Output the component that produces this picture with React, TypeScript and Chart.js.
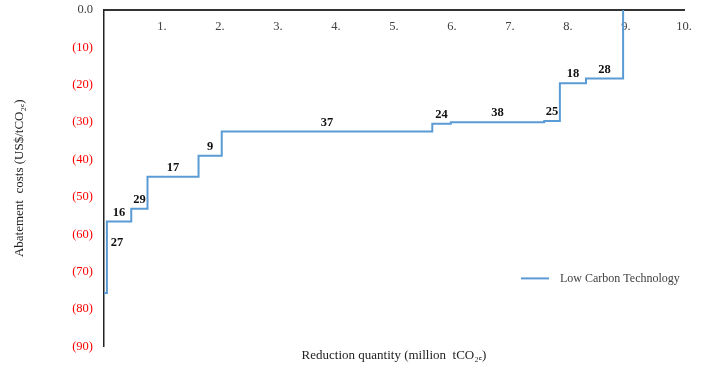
import React, { useEffect, useRef } from 'react';
import { Chart, registerables } from 'chart.js';

Chart.register(...registerables);

// ---- data ----
const techLabels = ['27', '16', '29', '17', '9', '37', '24', '38', '25', '18', '28'];
const quantities = [0.05, 0.42, 0.28, 0.88, 0.4, 3.63, 0.32, 1.61, 0.27, 0.45, 0.64]; // million tCO2e
const costs = [-75.7, -56.6, -53.2, -44.6, -39.0, -32.5, -30.4, -30.0, -29.7, -19.6, -18.3]; // US$/tCO2e
const seriesName = 'Low Carbon Technology';
const xMin = 0;
const xMax = 10;
const yMin = -90;
const yMax = 0;
const xTitle = 'Reduction quantity (million  tCO\u2082\u2091)';
const yTitle = 'Abatement  costs (US$/tCO\u2082\u2091)';

const FONT = "'Liberation Serif', 'Times New Roman', serif";
const LINE_COLOR = '#5B9BD5';

function buildPoints() {
  const pts: { x: number; y: number }[] = [{ x: 0, y: costs[0] }];
  let cum = 0;
  for (let i = 0; i < quantities.length; i++) {
    cum += quantities[i];
    pts.push({ x: cum, y: costs[i] });
  }
  pts.push({ x: cum, y: 0 });
  return pts;
}

const stepLabelPlugin = {
  id: 'stepLabels',
  afterDatasetsDraw(chart: any) {
    const { ctx, scales } = chart;
    const xs = scales.x;
    const ys = scales.y;
    ctx.save();
    ctx.font = `bold 12.5px ${FONT}`;
    ctx.fillStyle = '#111';
    ctx.textAlign = 'center';
    ctx.textBaseline = 'middle';
    let cum = 0;
    for (let i = 0; i < techLabels.length; i++) {
      const x0 = cum;
      cum += quantities[i];
      const p0 = xs.getPixelForValue(x0);
      const p1 = xs.getPixelForValue(cum);
      const py = ys.getPixelForValue(costs[i]);
      if (p1 - p0 < 8 && i + 1 < costs.length) {
        const pyNext = ys.getPixelForValue(costs[i + 1]);
        ctx.fillText(techLabels[i], p1 + 10, (py + pyNext) / 2 - 14);
      } else {
        ctx.fillText(techLabels[i], (p0 + p1) / 2, py - 9);
      }
    }
    ctx.restore();
  },
};

const innerLegendPlugin = {
  id: 'innerLegend',
  afterDraw(chart: any) {
    const { ctx, chartArea } = chart;
    const ds = chart.data.datasets[0];
    const y = chartArea.bottom - 68;
    const lx = chartArea.right - 163;
    ctx.save();
    ctx.strokeStyle = ds.borderColor;
    ctx.lineWidth = 2;
    ctx.beginPath();
    ctx.moveTo(lx, y);
    ctx.lineTo(lx + 28, y);
    ctx.stroke();
    ctx.font = `12px ${FONT}`;
    ctx.fillStyle = '#404040';
    ctx.textAlign = 'left';
    ctx.textBaseline = 'middle';
    ctx.fillText(ds.label, lx + 39, y);
    ctx.restore();
  },
};

export default function App() {
  const canvasRef = useRef<HTMLCanvasElement | null>(null);

  useEffect(() => {
    document.body.style.margin = '0';
    const canvas = canvasRef.current;
    if (!canvas) return;
    const chart = new Chart(canvas, {
      type: 'line',
      data: {
        datasets: [
          {
            label: seriesName,
            data: buildPoints(),
            borderColor: LINE_COLOR,
            backgroundColor: LINE_COLOR,
            borderWidth: 2,
            pointRadius: 0,
            stepped: 'after',
            fill: false,
          },
        ],
      },
      options: {
        responsive: false,
        animation: false,
        layout: { padding: { left: 6, top: 10, right: 20, bottom: 5 } },
        plugins: {
          legend: { display: false },
          tooltip: { enabled: false },
          title: {
            display: true,
            text: xTitle,
            position: 'bottom',
            fullSize: false,
            color: '#222',
            font: { family: FONT, size: 13, weight: 'normal' },
            padding: { top: 1, bottom: 0 },
          },
        },
        scales: {
          x: {
            type: 'linear',
            position: { y: 0 } as any,
            min: xMin,
            max: xMax,
            grid: { display: false, drawTicks: false },
            border: { display: true, color: '#333', width: 2 },
            ticks: {
              stepSize: 1,
              padding: 9,
              color: '#404040',
              font: { family: FONT, size: 12.5 },
              callback: (v: any) => (Number(v) === 0 ? '' : `${v}.`),
            },
          },
          y: {
            type: 'linear',
            position: 'left',
            min: yMin,
            max: yMax,
            afterFit: (s: any) => {
              s.width = 98;
              s.paddingTop = 0;
              s.paddingBottom = 0;
            },
            grid: { display: false, drawTicks: false },
            border: { display: true, color: '#222', width: 1.5 },
            ticks: {
              stepSize: 10,
              padding: 11,
              font: { family: FONT, size: 12.5 },
              color: (c: any) => (c.tick && c.tick.value === 0 ? '#404040' : '#ff0000'),
              callback: (v: any) => (Number(v) === 0 ? '0.0' : `(${Math.abs(Number(v))})`),
            },
            title: {
              display: true,
              text: yTitle,
              color: '#222',
              font: { family: FONT, size: 13 },
              padding: { top: 6, bottom: 0 },
            },
          },
        },
      },
      plugins: [stepLabelPlugin, innerLegendPlugin],
    });
    return () => chart.destroy();
  }, []);

  return (
    <div style={{ width: 704, height: 368 }}>
      <canvas ref={canvasRef} width={704} height={368} style={{ display: 'block' }} />
    </div>
  );
}
